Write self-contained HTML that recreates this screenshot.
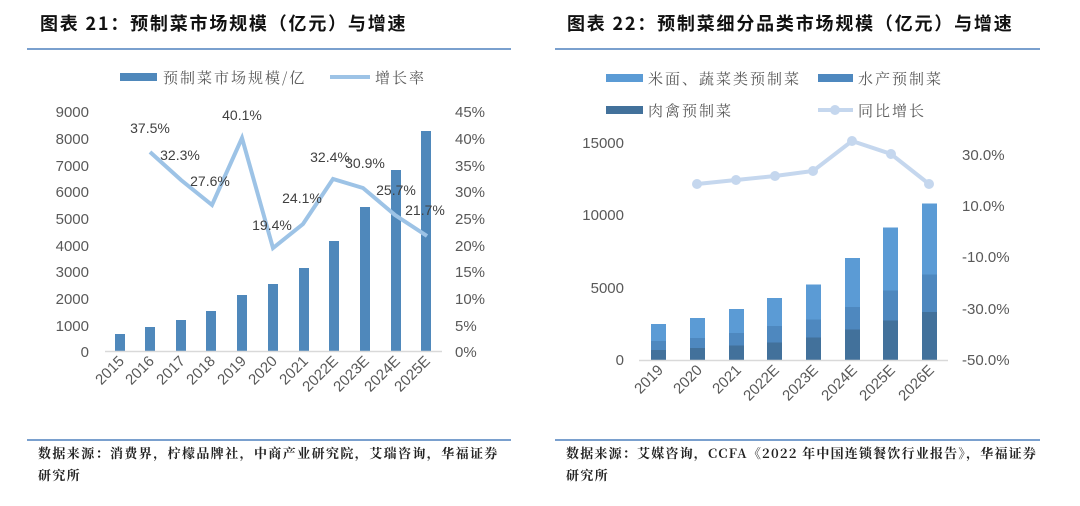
<!DOCTYPE html>
<html><head><meta charset="utf-8"><style>
html,body{margin:0;padding:0;background:#fff;}
svg{display:block;font-family:"Liberation Sans","Noto Sans CJK SC",sans-serif;}
.t{font-family:"Noto Sans CJK SC",sans-serif;font-weight:bold;font-size:18px;fill:#111;letter-spacing:1.8px;}
.ax{font-size:15px;fill:#595959;}
.lg{font-family:"Noto Serif CJK SC","Noto Sans CJK SC",serif;font-size:15px;fill:#595959;letter-spacing:2px;}
.dl{font-size:14px;fill:#404040;}
.src{font-family:"Noto Serif CJK SC","Noto Sans CJK SC",serif;font-size:13px;fill:#222;font-weight:bold;letter-spacing:1.4px;}
.src2{letter-spacing:1.2px;}
</style></head><body>
<svg width="1080" height="506" viewBox="0 0 1080 506">
<!-- LEFT -->
<text class="t" x="40" y="30">图表 21：预制菜市场规模（亿元）与增速</text>
<line x1="27" y1="49" x2="511" y2="49" stroke="#4f81bd" stroke-width="1.5"/>
<rect x="120" y="73" width="37" height="8" fill="#4f88bb"/>
<text class="lg" x="163" y="83">预制菜市场规模/亿</text>
<line x1="330" y1="77" x2="370" y2="77" stroke="#9dc3e6" stroke-width="4"/>
<text class="lg" x="375" y="83">增长率</text>
<g class="ax" text-anchor="end">
<text x="89" y="117">9000</text><text x="89" y="144">8000</text><text x="89" y="171">7000</text>
<text x="89" y="197">6000</text><text x="89" y="224">5000</text><text x="89" y="251">4000</text>
<text x="89" y="277">3000</text><text x="89" y="304">2000</text><text x="89" y="331">1000</text>
<text x="89" y="357">0</text>
</g>
<g class="ax">
<text x="455" y="117">45%</text><text x="455" y="144">40%</text><text x="455" y="171">35%</text>
<text x="455" y="197">30%</text><text x="455" y="224">25%</text><text x="455" y="251">20%</text>
<text x="455" y="277">15%</text><text x="455" y="304">10%</text><text x="455" y="331">5%</text>
<text x="455" y="357">0%</text>
</g>
<g fill="#4f88bb">
<rect x="115" y="334" width="10" height="17"/>
<rect x="145" y="327" width="10" height="24"/>
<rect x="176" y="320" width="10" height="31"/>
<rect x="206" y="311" width="10" height="40"/>
<rect x="237" y="295" width="10" height="56"/>
<rect x="268" y="284" width="10" height="67"/>
<rect x="299" y="268" width="10" height="83"/>
<rect x="329" y="241" width="10" height="110"/>
<rect x="360" y="207" width="10" height="144"/>
<rect x="391" y="170" width="10" height="181"/>
<rect x="421" y="131" width="10" height="220"/>
</g>
<line x1="105" y1="351.5" x2="442" y2="351.5" stroke="#d9d9d9" stroke-width="1.5"/>
<polyline points="150,152 181,180 212,205 242,138 273,248 303,224 333,179 363,188 395,215 427,236" fill="none" stroke="#9dc3e6" stroke-width="4" stroke-linejoin="miter"/>
<g class="dl" text-anchor="middle">
<text x="150" y="133">37.5%</text><text x="180" y="160">32.3%</text><text x="210" y="186">27.6%</text>
<text x="242" y="120">40.1%</text><text x="272" y="230">19.4%</text><text x="302" y="203">24.1%</text>
<text x="330" y="162">32.4%</text><text x="365" y="168">30.9%</text><text x="396" y="195">25.7%</text>
<text x="425" y="215">21.7%</text>
</g>
<g class="ax" text-anchor="end">
<text transform="translate(125,362) rotate(-45)">2015</text>
<text transform="translate(155,362) rotate(-45)">2016</text>
<text transform="translate(186,362) rotate(-45)">2017</text>
<text transform="translate(216,362) rotate(-45)">2018</text>
<text transform="translate(247,362) rotate(-45)">2019</text>
<text transform="translate(278,362) rotate(-45)">2020</text>
<text transform="translate(309,362) rotate(-45)">2021</text>
<text transform="translate(339,362) rotate(-45)">2022E</text>
<text transform="translate(370,362) rotate(-45)">2023E</text>
<text transform="translate(401,362) rotate(-45)">2024E</text>
<text transform="translate(431,362) rotate(-45)">2025E</text>
</g>
<line x1="27" y1="440" x2="511" y2="440" stroke="#4f81bd" stroke-width="1.5"/>
<text class="src" x="38" y="458">数据来源：消费界，柠檬品牌社，中商产业研究院，艾瑞咨询，华福证券</text>
<text class="src" x="38" y="480">研究所</text>

<!-- RIGHT -->
<text class="t" x="567" y="30">图表 22：预制菜细分品类市场规模（亿元）与增速</text>
<line x1="555" y1="49" x2="1040" y2="49" stroke="#4f81bd" stroke-width="1.5"/>
<rect x="606" y="74" width="37" height="8" fill="#5b9bd5"/>
<text class="lg" x="648" y="84">米面、蔬菜类预制菜</text>
<rect x="818" y="74" width="35" height="8" fill="#4e88bf"/>
<text class="lg" x="858" y="84">水产预制菜</text>
<rect x="606" y="106" width="37" height="8" fill="#42719b"/>
<text class="lg" x="648" y="116">肉禽预制菜</text>
<line x1="818" y1="110" x2="853" y2="110" stroke="#c5d7ee" stroke-width="4"/>
<circle cx="835" cy="110" r="5" fill="#c5d7ee"/>
<text class="lg" x="858" y="116">同比增长</text>
<g class="ax" text-anchor="end">
<text x="624" y="148">15000</text><text x="624" y="220">10000</text><text x="624" y="293">5000</text><text x="624" y="365">0</text>
</g>
<g class="ax">
<text x="962" y="160">30.0%</text><text x="962" y="211">10.0%</text><text x="962" y="262">-10.0%</text>
<text x="962" y="314">-30.0%</text><text x="962" y="365">-50.0%</text>
</g>
<g>
<rect x="651" y="324" width="15" height="36" fill="#5b9bd5"/><rect x="651" y="341" width="15" height="19" fill="#4e88bf"/><rect x="651" y="350" width="15" height="10" fill="#42719b"/>
<rect x="690" y="318" width="15" height="42" fill="#5b9bd5"/><rect x="690" y="338" width="15" height="22" fill="#4e88bf"/><rect x="690" y="348" width="15" height="12" fill="#42719b"/>
<rect x="729" y="309" width="15" height="51" fill="#5b9bd5"/><rect x="729" y="333" width="15" height="27" fill="#4e88bf"/><rect x="729" y="345.5" width="15" height="14.5" fill="#42719b"/>
<rect x="767" y="298" width="15" height="62" fill="#5b9bd5"/><rect x="767" y="326" width="15" height="34" fill="#4e88bf"/><rect x="767" y="342.5" width="15" height="17.5" fill="#42719b"/>
<rect x="806" y="284.5" width="15" height="75.5" fill="#5b9bd5"/><rect x="806" y="319.5" width="15" height="40.5" fill="#4e88bf"/><rect x="806" y="337.5" width="15" height="22.5" fill="#42719b"/>
<rect x="845" y="258" width="15" height="102" fill="#5b9bd5"/><rect x="845" y="307" width="15" height="53" fill="#4e88bf"/><rect x="845" y="329.5" width="15" height="30.5" fill="#42719b"/>
<rect x="883" y="227.5" width="15" height="132.5" fill="#5b9bd5"/><rect x="883" y="290.5" width="15" height="69.5" fill="#4e88bf"/><rect x="883" y="320.5" width="15" height="39.5" fill="#42719b"/>
<rect x="922" y="203.5" width="15" height="156.5" fill="#5b9bd5"/><rect x="922" y="274.5" width="15" height="85.5" fill="#4e88bf"/><rect x="922" y="312" width="15" height="48" fill="#42719b"/>
</g>
<line x1="639" y1="360.5" x2="948" y2="360.5" stroke="#d9d9d9" stroke-width="1.5"/>
<polyline points="697,184 736,180 775,176 813,171 852,141 891,154 929,184" fill="none" stroke="#c5d7ee" stroke-width="4"/>
<g fill="#c5d7ee">
<circle cx="697" cy="184" r="5"/><circle cx="736" cy="180" r="5"/><circle cx="775" cy="176" r="5"/>
<circle cx="813" cy="171" r="5"/><circle cx="852" cy="141" r="5"/><circle cx="891" cy="154" r="5"/><circle cx="929" cy="184" r="5"/>
</g>
<g class="ax" text-anchor="end">
<text transform="translate(664,371) rotate(-45)">2019</text>
<text transform="translate(703,371) rotate(-45)">2020</text>
<text transform="translate(742,371) rotate(-45)">2021</text>
<text transform="translate(780,371) rotate(-45)">2022E</text>
<text transform="translate(819,371) rotate(-45)">2023E</text>
<text transform="translate(858,371) rotate(-45)">2024E</text>
<text transform="translate(896,371) rotate(-45)">2025E</text>
<text transform="translate(935,371) rotate(-45)">2026E</text>
</g>
<line x1="555" y1="440" x2="1040" y2="440" stroke="#4f81bd" stroke-width="1.5"/>
<text class="src src2" x="566" y="458">数据来源：艾媒咨询，CCFA《2022 年中国连锁餐饮行业报告》，华福证券</text>
<text class="src" x="566" y="480">研究所</text>
</svg>
</body></html>
